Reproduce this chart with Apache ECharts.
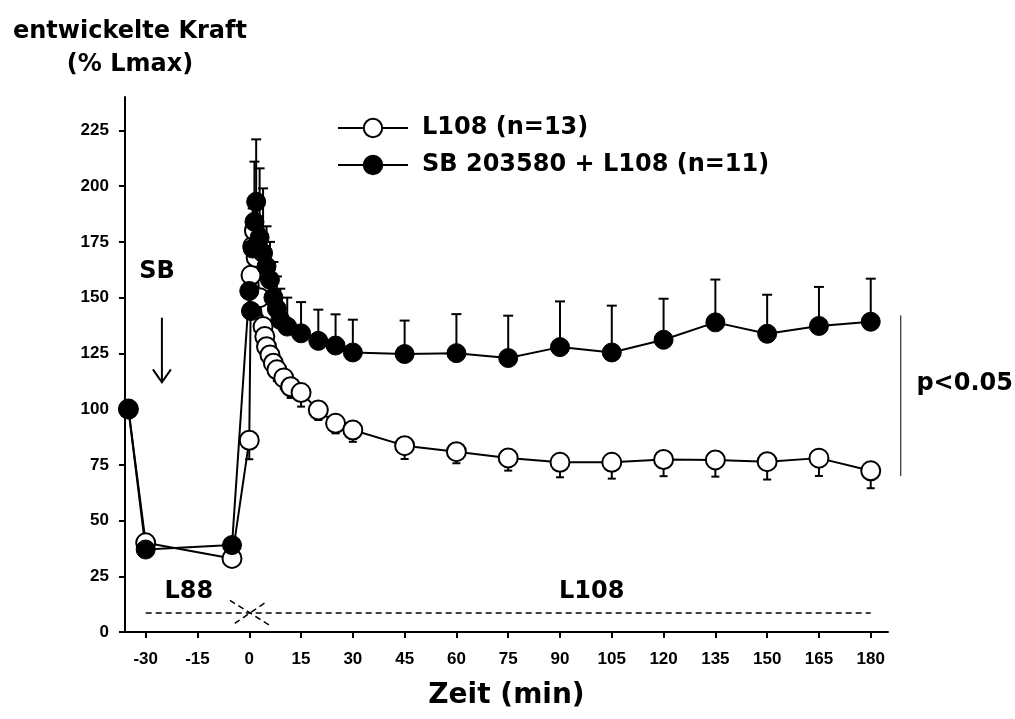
<!DOCTYPE html>
<html>
<head>
<meta charset="utf-8">
<script src="https://cdn.jsdelivr.net/npm/echarts@6/dist/echarts.min.js"></script>
<style>
html, body { margin: 0; padding: 0; background: #fff; }
#chart { width: 1015px; height: 719px; }
</style>
</head>
<body>
<div id="chart"></div>
<script>
// Zeit (min) / entwickelte Kraft (% Lmax)
var xTicks = [-30, -15, 0, 15, 30, 45, 60, 75, 90, 105, 120, 135, 150, 165, 180];
var yTicks = [0, 25, 50, 75, 100, 125, 150, 175, 200, 225];

// L108 (n=13), offene Kreise, Fehlerbalken nach unten
var l108Time = [-35, -30, -5, 0, 0.5, 1, 1.5, 2, 3, 4, 4.5, 5, 6, 7, 8, 10, 12, 15, 20, 25, 30, 45, 60, 75, 90, 105, 120, 135, 150, 165, 180];
var l108Mean = [100, 40, 33, 86, 160, 173, 180, 168, 150, 137, 132.6, 128, 124.3, 120.6, 117.6, 114, 110, 107.4, 99.6, 93.6, 90.6, 83.6, 80.9, 78.1, 76.1, 76.1, 77.4, 77.2, 76.4, 78, 72.3];
var l108Err  = [0, 3, 3, 8.5, 10, 12, 12, 10, 8, 7, 6, 6, 6, 5, 5, 5, 5, 6.3, 4.5, 4.5, 5.3, 6, 5.2, 5.7, 6.7, 7.3, 7.5, 7.5, 8, 8, 7.8];

// SB 203580 + L108 (n=11), gefuellte Kreise, Fehlerbalken nach oben
var sbTime = [-35, -30, -5, 0, 0.5, 1, 1.5, 2, 3, 4, 5, 6, 7, 8, 9, 11, 15, 20, 25, 30, 45, 60, 75, 90, 105, 120, 135, 150, 165, 180];
var sbMean = [100, 37, 39, 153, 144, 172, 184, 193, 177, 170, 164, 158, 150, 145, 140, 137, 134, 130.6, 128.5, 125.4, 124.7, 125.1, 122.9, 127.8, 125.4, 131.1, 138.9, 133.8, 137.3, 139.2];
var sbErr  = [0, 3, 3, 10, 10, 18, 27, 28, 31, 29, 18, 17, 16, 14.5, 14, 13, 14, 14, 14, 14.7, 15, 17.5, 19, 20.5, 21, 18.4, 19.2, 17.5, 17.5, 19.3];

var FONT = "'Liberation Sans', Arial, sans-serif";
var BIG = "'DejaVu Sans', sans-serif";

function zip3(a, b, c) {
	var out = [];
	for (var i = 0; i < a.length; i++) out.push([a[i], b[i], c[i]]);
	return out;
}

function errorBars(dir, half) {
	return function (params, api) {
		var x = api.value(0), y = api.value(1), e = api.value(2);
		if (!e) return;
		var p0 = api.coord([x, y]);
		var p1 = api.coord([x, y + dir * e]);
		var st = { stroke: '#000', lineWidth: 2 };
		return {
			type: 'group',
			children: [
				{ type: 'line', shape: { x1: p0[0], y1: p0[1], x2: p1[0], y2: p1[1] }, style: st },
				{ type: 'line', shape: { x1: p1[0] - half, y1: p1[1], x2: p1[0] + half, y2: p1[1] }, style: st }
			]
		};
	};
}

var myChart = echarts.init(document.getElementById('chart'));

var option = {
	animation: false,
	backgroundColor: '#fff',
	textStyle: { fontFamily: FONT },
	grid: { left: 123, right: 127, top: 97, bottom: 87 },
	legend: {
		data: ['L108 (n=13)', 'SB 203580 + L108 (n=11)'],
		orient: 'vertical',
		left: 337,
		top: 116,
		padding: 0,
		itemWidth: 70,
		itemHeight: 23,
		itemGap: 13,
		selectedMode: false,
		textStyle: { fontFamily: BIG, fontWeight: 'bold', fontSize: 24, lineHeight: 23, color: '#000', padding: [0, 0, 0, 9] }
	},
	xAxis: {
		type: 'value',
		min: -36,
		max: 185,
		name: 'Zeit (min)',
		nameLocation: 'middle',
		nameGap: 50,
		nameTextStyle: { fontFamily: BIG, fontWeight: 'bold', fontSize: 28, color: '#000' },
		axisLine: { onZero: false, lineStyle: { color: '#000', width: 2 } },
		axisTick: { customValues: xTicks, length: 6, lineStyle: { color: '#000', width: 2 } },
		axisLabel: { customValues: xTicks, margin: 19, fontFamily: FONT, fontWeight: 'bold', fontSize: 17, color: '#000' },
		splitLine: { show: false }
	},
	yAxis: {
		type: 'value',
		min: 0,
		max: 240,
		name: 'entwickelte Kraft\n(% Lmax)',
		nameLocation: 'end',
		nameGap: 16,
		nameTextStyle: { fontFamily: BIG, fontWeight: 'bold', fontSize: 24, lineHeight: 33, color: '#000', align: 'center', padding: [0, 0, 0, 10] },
		axisLine: { onZero: false, lineStyle: { color: '#000', width: 2 } },
		axisTick: { customValues: yTicks, length: 6, lineStyle: { color: '#000', width: 2 } },
		axisLabel: { customValues: yTicks, margin: 16, fontFamily: FONT, fontWeight: 'bold', fontSize: 17, color: '#000' },
		splitLine: { show: false }
	},
	series: [
		{
			name: 'l108err',
			type: 'custom',
			renderItem: errorBars(-1, 4),
			data: zip3(l108Time, l108Mean, l108Err),
			z: 2
		},
		{
			name: 'L108 (n=13)',
			type: 'line',
			data: l108Time.map(function (t, i) { return [t, l108Mean[i]]; }),
			symbol: 'circle',
			symbolSize: 19,
			itemStyle: { color: '#fff', borderColor: '#000', borderWidth: 2 },
			lineStyle: { color: '#000', width: 2 },
			z: 2,
			markLine: {
				silent: true,
				symbol: 'none',
				label: { show: false },
				lineStyle: { color: '#000', width: 1.5, type: [6, 4] },
				data: [
					[{ coord: [-30, 8.5] }, { coord: [180, 8.5] }],
					[{ coord: [-5.6, 14.2] }, { coord: [5.9, 3] }],
					[{ coord: [4.4, 12.9] }, { coord: [-4.2, 3.9] }]
				]
			}
		},
		{
			name: 'sberr',
			type: 'custom',
			renderItem: errorBars(1, 5),
			data: zip3(sbTime, sbMean, sbErr),
			z: 2
		},
		{
			name: 'SB 203580 + L108 (n=11)',
			type: 'line',
			data: sbTime.map(function (t, i) { return [t, sbMean[i]]; }),
			symbol: 'circle',
			symbolSize: 19,
			itemStyle: { color: '#000', borderColor: '#000', borderWidth: 1 },
			lineStyle: { color: '#000', width: 2 },
			z: 2
		}
	]
};

myChart.setOption(option);

// Beschriftungen, an Datenkoordinaten verankert
function px(t, v) { return myChart.convertToPixel({ gridIndex: 0 }, [t, v]); }
function label(t, v, s) {
	var p = px(t, v);
	return {
		type: 'text', x: p[0], y: p[1], z: 10,
		style: { text: s, fill: '#000', font: 'bold 24px ' + BIG, align: 'center', verticalAlign: 'middle' }
	};
}
var a0 = px(-25.3, 141), a1 = px(-25.3, 112);
var b0 = px(188.7, 142), b1 = px(188.7, 70);
myChart.setOption({
	graphic: [
		label(-26.7, 161.6, 'SB'),
		label(-17.5, 18, 'L88'),
		label(99.2, 18, 'L108'),
		label(207.2, 111.3, 'p<0.05'),
		{ type: 'line', shape: { x1: a0[0], y1: a0[1], x2: a1[0], y2: a1[1] }, style: { stroke: '#000', lineWidth: 2 } },
		{ type: 'polyline', shape: { points: [[a1[0] - 9, a1[1] - 13], [a1[0], a1[1]], [a1[0] + 9, a1[1] - 13]] }, style: { stroke: '#000', lineWidth: 2, fill: null } },
		{ type: 'line', shape: { x1: b0[0], y1: b0[1], x2: b1[0], y2: b1[1] }, style: { stroke: '#000', lineWidth: 1 } }
	]
});
</script>
</body>
</html>
